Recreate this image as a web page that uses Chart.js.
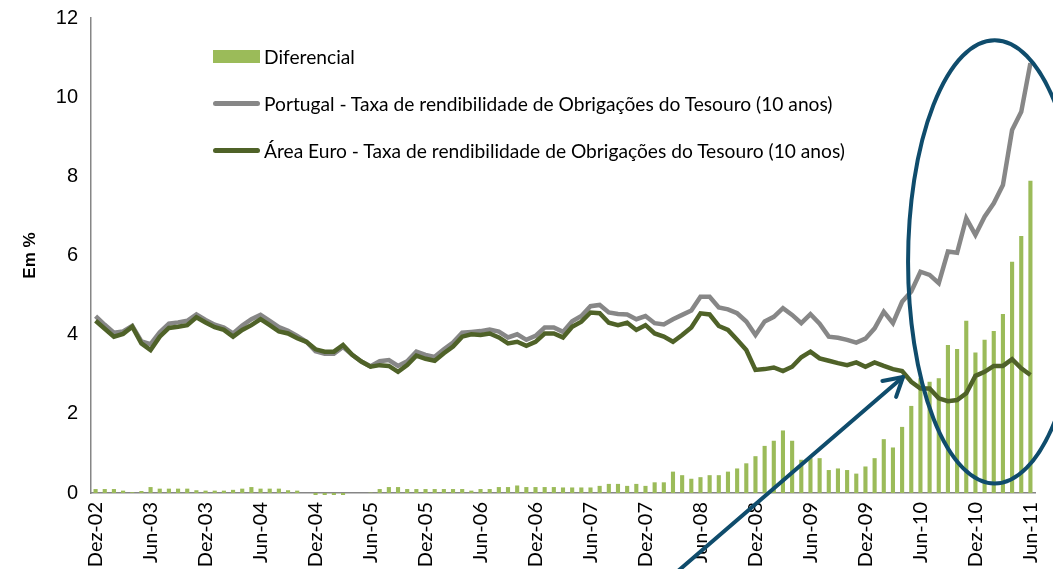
<!DOCTYPE html>
<html lang="pt">
<head>
<meta charset="UTF-8">
<title>Taxas de rendibilidade das Obrigações do Tesouro a 10 anos</title>
<script src="https://cdn.jsdelivr.net/npm/chart.js"></script>
<style>
  body { margin: 0; background: #fff; }
  #wrap { position: relative; width: 1053px; height: 569px; }
  #legend { position: absolute; left: 213px; top: 33px; font-family: Lato, sans-serif; font-size: 19.2px; color: #000; pointer-events: none; }
  .item { display: flex; align-items: center; height: 47px; white-space: nowrap; }
  .sym { width: 47px; margin-right: 4px; }
</style>
</head>
<body>
<div id="wrap">
  <canvas id="chart" width="1053" height="569"></canvas>
  <div id="legend"></div>
</div>
<script>
// meses (Dez-02 a Jun-11)
const meses = [
  'Dez-02',
  'Jan-03','Fev-03','Mar-03','Abr-03','Mai-03','Jun-03','Jul-03','Ago-03','Set-03','Out-03','Nov-03','Dez-03',
  'Jan-04','Fev-04','Mar-04','Abr-04','Mai-04','Jun-04','Jul-04','Ago-04','Set-04','Out-04','Nov-04','Dez-04',
  'Jan-05','Fev-05','Mar-05','Abr-05','Mai-05','Jun-05','Jul-05','Ago-05','Set-05','Out-05','Nov-05','Dez-05',
  'Jan-06','Fev-06','Mar-06','Abr-06','Mai-06','Jun-06','Jul-06','Ago-06','Set-06','Out-06','Nov-06','Dez-06',
  'Jan-07','Fev-07','Mar-07','Abr-07','Mai-07','Jun-07','Jul-07','Ago-07','Set-07','Out-07','Nov-07','Dez-07',
  'Jan-08','Fev-08','Mar-08','Abr-08','Mai-08','Jun-08','Jul-08','Ago-08','Set-08','Out-08','Nov-08','Dez-08',
  'Jan-09','Fev-09','Mar-09','Abr-09','Mai-09','Jun-09','Jul-09','Ago-09','Set-09','Out-09','Nov-09','Dez-09',
  'Jan-10','Fev-10','Mar-10','Abr-10','Mai-10','Jun-10','Jul-10','Ago-10','Set-10','Out-10','Nov-10','Dez-10',
  'Jan-11','Fev-11','Mar-11','Abr-11','Mai-11','Jun-11'
];

// Portugal - OT 10 anos (%)
const portugal = [
  4.47,
  4.25,4.05,4.08,4.22,3.83,3.76,4.06,4.28,4.31,4.35,4.51,4.37,
  4.25,4.18,4.03,4.23,4.39,4.50,4.35,4.19,4.10,3.97,3.82,3.58,
  3.52,3.52,3.69,3.49,3.32,3.20,3.33,3.36,3.21,3.33,3.57,3.49,
  3.44,3.63,3.80,4.05,4.07,4.09,4.13,4.08,3.93,4.01,3.87,3.97,
  4.18,4.18,4.07,4.34,4.47,4.72,4.75,4.56,4.52,4.51,4.39,4.47,
  4.29,4.26,4.39,4.50,4.61,4.96,4.96,4.69,4.64,4.54,4.33,3.99,
  4.33,4.45,4.67,4.50,4.29,4.52,4.28,3.95,3.92,3.87,3.80,3.90,
  4.16,4.58,4.29,4.83,5.09,5.59,5.51,5.30,6.10,6.07,6.94,6.52,
  6.98,7.32,7.78,9.17,9.63,10.86
];

// Área Euro - OT 10 anos (%)
const areaEuro = [
  4.35,
  4.15,3.95,4.02,4.20,3.78,3.61,3.95,4.17,4.20,4.24,4.44,4.31,
  4.19,4.12,3.95,4.12,4.24,4.39,4.24,4.08,4.03,3.91,3.82,3.63,
  3.57,3.57,3.74,3.49,3.32,3.19,3.23,3.21,3.06,3.23,3.47,3.39,
  3.34,3.53,3.70,3.95,4.01,3.99,4.03,3.93,3.78,3.82,3.72,3.82,
  4.03,4.03,3.93,4.20,4.33,4.56,4.54,4.30,4.24,4.30,4.12,4.24,
  4.03,3.95,3.82,3.99,4.18,4.54,4.51,4.22,4.12,3.87,3.61,3.11,
  3.13,3.17,3.08,3.19,3.43,3.57,3.40,3.34,3.28,3.23,3.30,3.19,
  3.30,3.21,3.13,3.08,2.81,2.64,2.64,2.39,2.32,2.35,2.52,2.96,
  3.06,3.21,3.21,3.38,3.15,2.98
];

// Diferencial (p.p.)
const diferencial = [
  0.10,
  0.10,0.10,0.06,0.02,0.05,0.15,0.11,0.11,0.11,0.11,0.07,0.06,
  0.06,0.06,0.08,0.11,0.15,0.11,0.11,0.11,0.07,0.06,0.00,-0.05,
  -0.05,-0.05,-0.05,0.00,0.00,0.01,0.10,0.15,0.15,0.10,0.10,0.10,
  0.10,0.10,0.10,0.10,0.06,0.10,0.10,0.15,0.15,0.19,0.15,0.15,
  0.15,0.15,0.14,0.14,0.14,0.14,0.18,0.23,0.23,0.18,0.23,0.18,
  0.27,0.27,0.54,0.45,0.36,0.40,0.45,0.45,0.54,0.62,0.75,0.93,
  1.19,1.32,1.58,1.32,0.84,0.88,0.88,0.58,0.62,0.58,0.49,0.67,
  0.88,1.36,1.15,1.67,2.20,2.90,2.81,2.90,3.74,3.64,4.35,3.55,
  3.87,4.09,4.52,5.84,6.49,7.89
];

const yTicks = [0, 2, 4, 6, 8, 10, 12];

// anotações em unidades dos eixos (índice do mês, %)
const elipse = { x: 98.1, y: 5.84, rx: 9.45, ry: 5.6 };
const seta = { de: [63.4, -2.0], para: [88.1, 2.93] };

const anotacoes = {
  id: 'anotacoes',
  afterDatasetsDraw(chart) {
    const { ctx, scales: { x, y } } = chart;
    ctx.save();
    ctx.strokeStyle = '#0f4c6c';
    ctx.lineWidth = 4;
    ctx.lineCap = 'round';
    ctx.lineJoin = 'round';

    const cx = x.getPixelForValue(elipse.x);
    const cy = y.getPixelForValue(elipse.y);
    const rx = x.getPixelForValue(elipse.x + elipse.rx) - cx;
    const ry = cy - y.getPixelForValue(elipse.y + elipse.ry);
    ctx.beginPath();
    ctx.ellipse(cx, cy, rx, ry, 0, 0, Math.PI * 2);
    ctx.stroke();

    const x0 = x.getPixelForValue(seta.de[0]), y0 = y.getPixelForValue(seta.de[1]);
    const x1 = x.getPixelForValue(seta.para[0]), y1 = y.getPixelForValue(seta.para[1]);
    ctx.beginPath();
    ctx.moveTo(x0, y0);
    ctx.lineTo(x1, y1);
    ctx.stroke();
    const ang = Math.atan2(y0 - y1, x0 - x1);
    const len = 21, abre = Math.PI / 6;
    ctx.beginPath();
    ctx.moveTo(x1 + len * Math.cos(ang - abre), y1 + len * Math.sin(ang - abre));
    ctx.lineTo(x1, y1);
    ctx.lineTo(x1 + len * Math.cos(ang + abre), y1 + len * Math.sin(ang + abre));
    ctx.stroke();
    ctx.restore();
  }
};

const chart = new Chart(document.getElementById('chart'), {
  type: 'bar',
  data: {
    labels: meses,
    datasets: [
      {
        type: 'bar',
        label: 'Diferencial',
        data: diferencial,
        backgroundColor: '#9bbb59',
        barPercentage: 0.45,
        categoryPercentage: 1,
        clip: false,
        order: 3
      },
      {
        type: 'line',
        label: 'Portugal - Taxa de rendibilidade de Obrigações do Tesouro (10 anos)',
        data: portugal,
        borderColor: '#878787',
        backgroundColor: '#878787',
        borderWidth: 4.5,
        pointRadius: 0,
        tension: 0,
        order: 2
      },
      {
        type: 'line',
        label: 'Área Euro - Taxa de rendibilidade de Obrigações do Tesouro (10 anos)',
        data: areaEuro,
        borderColor: '#4f6228',
        backgroundColor: '#4f6228',
        borderWidth: 4.5,
        pointRadius: 0,
        tension: 0,
        order: 1
      }
    ]
  },
  options: {
    responsive: false,
    animation: false,
    layout: { padding: { top: 18, right: 18, left: 0, bottom: 0 } },
    plugins: {
      legend: { display: false },
      tooltip: { enabled: false }
    },
    scales: {
      x: {
        grid: { display: false, drawTicks: false },
        border: { color: '#868686', width: 1.5 },
        ticks: {
          autoSkip: false,
          minRotation: 90,
          maxRotation: 90,
          padding: 9,
          color: '#000',
          font: { family: 'Lato', size: 20 },
          callback(v, i) { return i % 6 === 0 ? this.getLabelForValue(v) : ''; }
        },
        afterFit(s) { s.height = 76; s.paddingLeft = 0; s.paddingRight = 0; }
      },
      y: {
        min: 0,
        max: 12,
        afterBuildTicks(s) { s.ticks = yTicks.map(v => ({ value: v })); },
        grid: { display: false, drawTicks: false },
        border: { color: '#868686', width: 1.5 },
        ticks: {
          padding: 13,
          color: '#000',
          font: { family: 'Liberation Sans', size: 20 }
        },
        title: {
          display: true,
          text: 'Em %',
          color: '#000',
          font: { family: 'Liberation Sans', size: 17, weight: 'bold' },
          padding: { top: 20 }
        },
        afterFit(s) { s.width = 91; s.paddingTop = 0; s.paddingBottom = 0; }
      }
    }
  },
  plugins: [anotacoes]
});

// legenda em HTML, construída a partir dos datasets
const legend = document.getElementById('legend');
chart.data.datasets.forEach(ds => {
  const item = document.createElement('div');
  item.className = 'item';
  const sym = document.createElement('div');
  sym.className = 'sym';
  if (ds.type === 'bar') {
    sym.style.height = '13px';
    sym.style.background = ds.backgroundColor;
  } else {
    sym.style.height = '5px';
    sym.style.borderRadius = '3px';
    sym.style.background = ds.borderColor;
  }
  const txt = document.createElement('span');
  txt.textContent = ds.label;
  item.appendChild(sym);
  item.appendChild(txt);
  legend.appendChild(item);
});
</script>
</body>
</html>
